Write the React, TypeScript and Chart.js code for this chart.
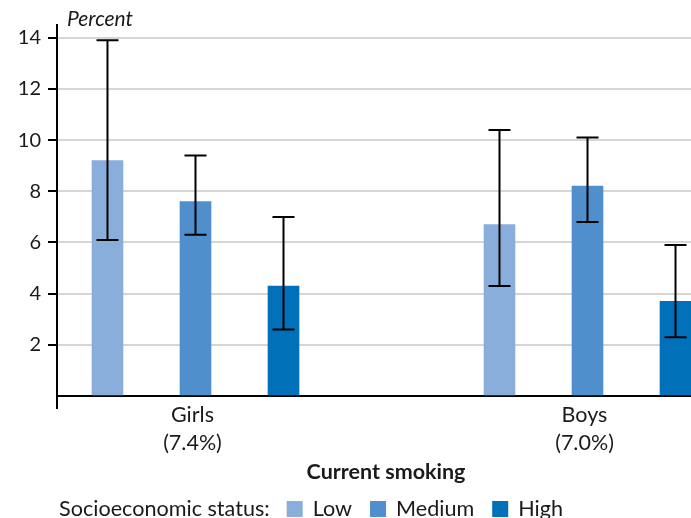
import React, { useEffect, useRef } from 'react';
import { Chart, registerables } from 'chart.js';

Chart.register(...registerables);

// ---- data ----
const groupLabels = [['Girls', '(7.4%)'], ['Boys', '(7.0%)']];
const seriesNames = ['Low', 'Medium', 'High'];
const lowValues = [9.2, 6.7];
const lowCiLower = [6.1, 4.3];
const lowCiUpper = [13.9, 10.4];
const mediumValues = [7.6, 8.2];
const mediumCiLower = [6.3, 6.8];
const mediumCiUpper = [9.4, 10.1];
const highValues = [4.3, 3.7];
const highCiLower = [2.6, 2.3];
const highCiUpper = [7.0, 5.9];
const yTickValues = [0, 2, 4, 6, 8, 10, 12, 14];
const yTitle = 'Percent';
const xTitle = 'Current smoking';
const legendTitle = 'Socioeconomic status:';

// ---- styles ----
const COLORS = ['#8aaedb', '#4e8fcc', '#0070b9'];
const FONT = 'Lato, sans-serif';
const TEXT = '#1a1a1a';
const SERIES_OFFSET = 0.2245; // horizontal offset of series within a group (group units)

const seriesValues = [lowValues, mediumValues, highValues];
const seriesLower = [lowCiLower, mediumCiLower, highCiLower];
const seriesUpper = [lowCiUpper, mediumCiUpper, highCiUpper];

const overlayPlugin = {
  id: 'overlay',
  afterDatasetsDraw(chart: any) {
    const ctx = chart.ctx;
    const y = chart.scales.y;
    ctx.save();
    ctx.strokeStyle = '#000';
    ctx.lineWidth = 2;
    seriesValues.forEach((_, d) => {
      const meta = chart.getDatasetMeta(d);
      meta.data.forEach((bar: any, i: number) => {
        const px = bar.x;
        const top = y.getPixelForValue(seriesUpper[d][i]);
        const bot = y.getPixelForValue(seriesLower[d][i]);
        ctx.beginPath();
        ctx.moveTo(px, top);
        ctx.lineTo(px, bot);
        ctx.moveTo(px - 11, top);
        ctx.lineTo(px + 11, top);
        ctx.moveTo(px - 11, bot);
        ctx.lineTo(px + 11, bot);
        ctx.stroke();
      });
    });
    ctx.restore();
  },
  afterDraw(chart: any) {
    const ctx = chart.ctx;
    const area = chart.chartArea;
    ctx.save();
    // small tick below x axis at left
    ctx.strokeStyle = '#000';
    ctx.lineWidth = 2;
    ctx.beginPath();
    ctx.moveTo(area.left, area.bottom);
    ctx.lineTo(area.left, area.bottom + 13);
    ctx.stroke();

    // y title
    ctx.fillStyle = TEXT;
    ctx.textBaseline = 'alphabetic';
    ctx.textAlign = 'left';
    ctx.font = `italic 21px ${FONT}`;
    ctx.fillText(yTitle, area.left + 10, 26);

    // x title
    ctx.font = `bold 21.5px ${FONT}`;
    ctx.textAlign = 'center';
    ctx.fillText(xTitle, 386, 479);

    // legend
    ctx.font = `21.6px ${FONT}`;
    ctx.textAlign = 'left';
    let x = 59;
    const base = 516;
    ctx.fillText(legendTitle, x, base);
    x += ctx.measureText(legendTitle).width + 17;
    seriesNames.forEach((name, i) => {
      ctx.fillStyle = COLORS[i];
      ctx.fillRect(x, 501, 16, 16);
      x += 16 + 10;
      ctx.fillStyle = TEXT;
      ctx.fillText(name, x, base);
      x += ctx.measureText(name).width + 18;
    });
    ctx.restore();
  },
};

export default function App() {
  const ref = useRef<HTMLCanvasElement>(null);

  useEffect(() => {
    if (!ref.current) return;
    const datasets = seriesNames.map((name, d) => ({
      label: name,
      data: seriesValues[d].map((v, i) => ({ x: i + (d - 1) * SERIES_OFFSET, y: v })),
      backgroundColor: COLORS[d],
      borderWidth: 0,
      barThickness: 31,
      grouped: false,
    }));

    const chart = new Chart(ref.current, {
      type: 'bar',
      data: { datasets } as any,
      plugins: [overlayPlugin],
      options: {
        animation: false,
        responsive: false,
        layout: { padding: { top: 25, left: 0, right: 0, bottom: 0 } },
        plugins: {
          legend: { display: false },
          tooltip: { enabled: false },
          title: { display: false },
        },
        scales: {
          x: {
            type: 'linear',
            offset: false,
            min: -0.3533,
            max: 1.264,
            grid: { display: false, offset: false },
            border: { display: true, color: '#000', width: 2 },
            afterBuildTicks: (scale: any) => {
              scale.ticks = groupLabels.map((_, i) => ({ value: i }));
            },
            afterFit: (scale: any) => {
              scale.height = 122;
            },
            ticks: {
              autoSkip: false,
              maxRotation: 0,
              padding: -3,
              labelOffset: -3,
              color: TEXT,
              font: { family: FONT, size: 21.5, lineHeight: 1.3 },
              callback: (_v: any, i: number) => groupLabels[i],
            },
          },
          y: {
            type: 'linear',
            min: 0,
            max: 14.5,
            afterBuildTicks: (scale: any) => {
              scale.ticks = yTickValues.map((v) => ({ value: v }));
            },
            afterFit: (scale: any) => {
              scale.width = 57;
            },
            grid: {
              color: (c: any) => (c.tick && c.tick.value === 0 ? 'rgba(0,0,0,0)' : '#d6d6d6'),
              lineWidth: 2,
              tickColor: (c: any) => (c.tick && c.tick.value === 0 ? 'rgba(0,0,0,0)' : '#000'),
              tickWidth: 2,
              tickLength: 9,
            },
            border: { display: true, color: '#000', width: 2 },
            ticks: {
              padding: 7,
              color: TEXT,
              font: { family: FONT, size: 20 },
              callback: (v: any) => (v === 0 ? '' : String(v)),
            },
          },
        },
      } as any,
    });
    return () => chart.destroy();
  }, []);

  return (
    <div style={{ position: 'absolute', left: 0, top: 0, width: 691, height: 518, background: '#fff' }}>
      <canvas ref={ref} width={691} height={518} style={{ display: 'block' }} />
    </div>
  );
}
